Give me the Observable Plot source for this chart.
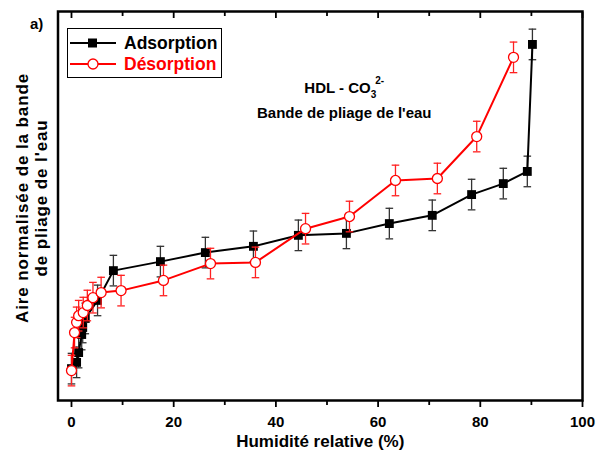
<!DOCTYPE html>
<html>
<head>
<meta charset="utf-8">
<script src="https://cdn.jsdelivr.net/npm/d3@7"></script>
<script src="https://cdn.jsdelivr.net/npm/@observablehq/plot@0.6"></script>
<style>
  body { margin: 0; background: #fff; font-family: "Liberation Sans", Arial, sans-serif; }
  #wrap { position: relative; width: 599px; height: 461px; }
  #legend { position: absolute; left: 67px; top: 28px; width: 153px; height: 48px; border: 1px solid #000; background: #fff; font-weight: bold; font-size: 17.5px; }
  #legend .row { position: absolute; left: 2px; display: flex; align-items: center; height: 20px; }
  #legend .row svg { margin-right: 8px; }
</style>
</head>
<body>
<div id="wrap"></div>
<script>
// Adsorption series (humidité relative %, aire normalisée)
const humAds = [0.0, 1.0, 1.4, 2.0, 2.2, 2.7, 5.1, 8.2, 17.4, 26.2, 35.6, 44.4, 53.8, 62.2, 70.6, 78.3, 84.5, 89.2, 90.2];
const aireAds = [0.089, 0.105, 0.130, 0.176, 0.194, 0.217, 0.263, 0.339, 0.362, 0.385, 0.401, 0.429, 0.434, 0.459, 0.480, 0.533, 0.561, 0.592, 0.916];
const errAds = [0.039, 0.039, 0.039, 0.039, 0.039, 0.039, 0.039, 0.039, 0.039, 0.039, 0.039, 0.039, 0.039, 0.039, 0.039, 0.039, 0.039, 0.039, 0.039];
// Désorption series
const humDes = [0.0, 0.6, 1.0, 1.4, 2.3, 3.1, 4.2, 5.8, 9.7, 18.0, 27.2, 36.0, 45.8, 54.4, 63.4, 71.6, 79.3, 86.5];
const aireDes = [0.084, 0.181, 0.207, 0.224, 0.232, 0.250, 0.270, 0.283, 0.288, 0.314, 0.357, 0.360, 0.446, 0.477, 0.569, 0.574, 0.681, 0.883];
const errDes = [0.039, 0.039, 0.039, 0.039, 0.039, 0.039, 0.039, 0.039, 0.039, 0.039, 0.039, 0.039, 0.039, 0.039, 0.039, 0.039, 0.039, 0.039];
// Axis ticks
const majorTicks = [0, 20, 40, 60, 80, 100];
const minorTicks = [10, 30, 50, 70, 90];

const ads = humAds.map((h, i) => ({h, a: aireAds[i], e: errAds[i]}));
const des = humDes.map((h, i) => ({h, a: aireDes[i], e: errDes[i]}));

const cap = {draw(ctx) { ctx.moveTo(-3.8, 0); ctx.lineTo(3.8, 0); }};
const font = "Liberation Sans, Arial, sans-serif";

function errMarks(data, color) {
  return [
    Plot.ruleX(data, {x: "h", y1: d => d.a - d.e, y2: d => d.a + d.e, stroke: color, strokeWidth: 1.3}),
    Plot.dot(data, {x: "h", y: d => d.a - d.e, symbol: cap, stroke: color, strokeWidth: 1.3}),
    Plot.dot(data, {x: "h", y: d => d.a + d.e, symbol: cap, stroke: color, strokeWidth: 1.3})
  ];
}

const chart = Plot.plot({
  width: 599,
  height: 461,
  marginLeft: 57.5,
  marginRight: 17,
  marginTop: 11,
  marginBottom: 61,
  style: {fontFamily: font, fontWeight: "bold", background: "#fff", color: "#000"},
  x: {domain: [-2.64, 100], label: null},
  y: {domain: [0.0077, 1.0], label: null, axis: null},
  marks: [
    Plot.axisX(majorTicks, {tickSize: 7, tickPadding: 9, fontSize: 15, fontWeight: "bold", strokeWidth: 1.8, label: null}),
    Plot.axisX(minorTicks, {tickSize: 5, tickFormat: () => "", strokeWidth: 1.8, label: null}),
    Plot.axisX(majorTicks, {anchor: "top", tickSize: 6, dy: 6, tickFormat: () => "", strokeWidth: 1.8, label: null}),
    Plot.axisX(minorTicks, {anchor: "top", tickSize: 4, dy: 4, tickFormat: () => "", strokeWidth: 1.8, label: null}),
    ...errMarks(ads, "#333"),
    Plot.line(ads, {x: "h", y: "a", stroke: "#000", strokeWidth: 2}),
    Plot.dot(ads, {x: "h", y: "a", symbol: "square", r: 5, fill: "#000", stroke: "none"}),
    ...errMarks(des, "#ff2020"),
    Plot.line(des, {x: "h", y: "a", stroke: "#ff0000", strokeWidth: 2}),
    Plot.dot(des, {x: "h", y: "a", symbol: "circle", r: 5, fill: "#fff", stroke: "#ff0000", strokeWidth: 1.3}),
    Plot.frame({stroke: "#000", strokeWidth: 2.5}),
    Plot.text(["Humidité relative (%)"], {frameAnchor: "bottom", dy: 41, fontSize: 17, fontWeight: "bold", lineAnchor: "middle"}),
    Plot.text(["Aire normalisée de la bande\nde pliage de l'eau"], {frameAnchor: "left", rotate: -90, dx: -27, dy: -8, fontSize: 17, fontWeight: "bold", lineHeight: 1.12, lineAnchor: "middle", textAnchor: "middle", className: "ylab"}),
    Plot.text(["a)"], {frameAnchor: "top-left", dx: -28, dy: 13, fontSize: 15, fontWeight: "bold", textAnchor: "start", lineAnchor: "middle"}),
    Plot.text(["HDL - CO"], {frameAnchor: "top", dx: 24, dy: 77, fontSize: 15, fontWeight: "bold", lineAnchor: "middle", className: "anno"}),
    Plot.text(["Bande de pliage de l'eau"], {frameAnchor: "top", dx: 24, dy: 102, fontSize: 15, fontWeight: "bold", lineAnchor: "middle"})
  ]
});

const wrap = document.getElementById("wrap");
wrap.appendChild(chart);

const svg = d3.select(chart);
svg.selectAll(".ylab text").attr("letter-spacing", 0.9);
// subscript/superscript in annotation
const anno = svg.select(".anno text");
anno.text(null);
anno.append("tspan").text("HDL - CO");
anno.append("tspan").attr("font-size", 10).attr("dy", 5).text("3");
anno.append("tspan").attr("font-size", 10).attr("dy", -14).attr("dx", -1).text("2-");

const legend = document.createElement("div");
legend.id = "legend";
legend.innerHTML = `
  <div class="row" style="top:4px;color:#000">
    <svg width="46" height="14"><line x1="0" x2="46" y1="7" y2="7" stroke="#000" stroke-width="2"/><rect x="18" y="2.5" width="9" height="9" fill="#000"/></svg>Adsorption</div>
  <div class="row" style="top:25px;color:#ff0000">
    <svg width="46" height="14"><line x1="0" x2="46" y1="7" y2="7" stroke="#ff0000" stroke-width="2"/><circle cx="23" cy="7" r="5" fill="#fff" stroke="#ff0000" stroke-width="1.3"/></svg>Désorption</div>`;
wrap.appendChild(legend);
</script>
</body>
</html>
